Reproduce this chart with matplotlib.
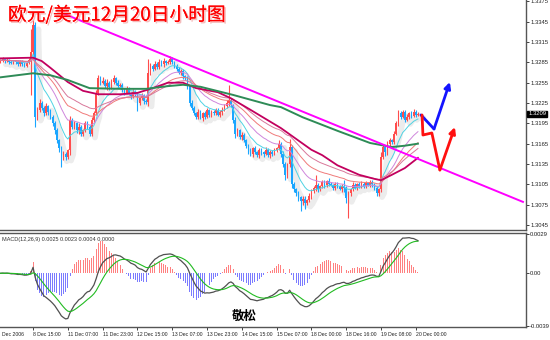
import matplotlib
matplotlib.use("Agg")
import matplotlib.pyplot as plt
import matplotlib.patheffects as pe
import matplotlib.transforms as mtransforms
import numpy as np
import pandas as pd

plt.rcParams['font.family'] = ['Liberation Sans', 'DejaVu Sans']

title = "欧元/美元12月20日小时图"
signature = "敬松"
macd_label = "MACD(12,26,9) 0.0025 0.0023 0.0004 0.0000"

base_price = 1.3
open_first_pips = 286
# hourly closes, pips above 1.3000
close_pips = [
    288, 290, 287, 289, 286, 284, 287, 285, 282, 286,
    283, 280, 284, 288, 300, 340, 205, 215, 225, 218,
    210, 220, 212, 205, 195, 185, 170, 158, 145, 150,
    146, 155, 200, 190, 195, 185, 190, 180, 185, 195,
    190, 180, 200, 210, 240, 262, 255, 258, 250, 254,
    248, 256, 262, 255, 250, 252, 245, 240, 246, 240,
    235, 242, 238, 225, 232, 236, 228, 226, 270, 280,
    276, 283, 278, 285, 282, 287, 284, 286, 290, 285,
    280, 276, 270, 272, 265, 262, 250, 225, 218, 210,
    205, 212, 203, 210, 205, 214, 208, 212, 210, 214,
    208, 212, 215, 220, 225, 230, 222, 200, 180, 185,
    175, 178, 170, 162, 155, 150, 158, 152, 148, 155,
    152, 150, 156, 148, 153, 150, 155, 158, 165, 150,
    135, 118, 135, 160, 105, 98, 92, 86, 80, 84,
    78, 82, 88, 95, 100, 104, 98, 102, 108, 104,
    110, 106, 104, 100, 105, 102, 98, 103, 100, 85,
    92, 98, 104, 100, 105, 102, 106, 103, 107, 104,
    108, 105, 100, 92, 98, 145, 160, 152, 165, 170,
    168, 180, 195, 210, 205, 212, 200, 205, 210, 206,
    212, 208, 209]
up_wick = [
    2, 3, 2, 2, 1, 3, 2, 2, 3, 2,
    2, 3, 2, 3, 35, 8, 5, 4, 6, 3,
    3, 5, 2, 4, 3, 4, 3, 2, 3, 4,
    3, 2, 6, 3, 4, 2, 5, 3, 2, 4,
    3, 2, 4, 3, 5, 4, 3, 5, 2, 6,
    3, 4, 5, 2, 4, 3, 3, 2, 4, 3,
    2, 4, 3, 3, 2, 4, 2, 3, 20, 4,
    3, 4, 2, 5, 3, 4, 2, 3, 4, 3,
    2, 3, 2, 4, 3, 2, 3, 2, 4, 3,
    2, 4, 3, 2, 3, 4, 2, 3, 2, 4,
    3, 2, 4, 3, 5, 22, 3, 2, 4, 3,
    2, 4, 3, 2, 3, 4, 2, 3, 2, 4,
    3, 2, 4, 3, 2, 3, 4, 2, 5, 3,
    4, 3, 2, 12, 3, 4, 2, 3, 2, 4,
    3, 2, 4, 3, 2, 15, 3, 2, 4, 3,
    2, 4, 3, 2, 3, 4, 2, 3, 8, 2,
    3, 2, 4, 3, 2, 3, 4, 2, 3, 2,
    4, 3, 2, 3, 2, 7, 3, 2, 4, 3,
    2, 4, 3, 5, 3, 2, 3, 4, 2, 3,
    4, 2, 3]
dn_wick = [
    2, 2, 3, 2, 3, 2, 2, 3, 2, 2,
    3, 2, 2, 2, 51, 4, 15, 5, 3, 4,
    4, 3, 5, 3, 4, 5, 4, 5, 14, 4,
    5, 3, 6, 4, 3, 4, 5, 3, 4, 3,
    3, 4, 3, 4, 3, 3, 4, 2, 3, 5,
    3, 2, 3, 4, 3, 2, 4, 3, 2, 3,
    4, 3, 2, 12, 3, 2, 4, 3, 6, 3,
    4, 2, 3, 3, 2, 4, 3, 2, 3, 2,
    3, 4, 2, 3, 4, 3, 4, 5, 4, 3,
    4, 3, 2, 4, 3, 2, 3, 4, 2, 3,
    2, 3, 4, 2, 3, 4, 3, 5, 6, 4,
    3, 4, 3, 4, 5, 3, 4, 2, 3, 4,
    3, 4, 2, 3, 4, 3, 2, 3, 3, 4,
    5, 6, 3, 4, 5, 4, 5, 6, 14, 5,
    10, 4, 3, 4, 3, 5, 4, 3, 2, 4,
    3, 4, 2, 3, 4, 3, 2, 4, 6, 8,
    30, 4, 3, 2, 4, 3, 2, 4, 3, 2,
    3, 4, 3, 4, 5, 4, 3, 5, 4, 3,
    4, 3, 2, 4, 3, 2, 3, 2, 4, 3,
    2, 3, 2]

# long moving averages (bar index, pips)
green_bars = [0, 15, 23, 31, 41, 55, 67, 77, 84, 92, 107, 124, 129, 139, 155, 170, 175, 180, 186, 192]
green_pips = [263, 269, 266, 259, 247, 246, 246, 250, 252, 249, 237, 222, 219, 204, 184, 166, 163, 160, 162, 165]
maroon_bars = [0, 15, 19, 23, 31, 38, 45, 55, 63, 70, 77, 84, 90, 100, 106, 115, 129, 143, 148, 155, 165, 172, 175, 180, 186, 192]
maroon_pips = [291, 292, 287, 277, 256, 243, 238, 238, 240, 247, 255, 255, 247, 241, 232, 215, 188, 156, 148, 133, 119, 113, 111, 119, 129, 144]

thin_spans = [10, 20, 32, 44]
thin_colors = ['#4fd3e3', '#cf86dc', '#f07a7a', '#d8779a']

trend_x = [28.3, 240.3]
trend_y = [1.3358, 1.3079]
blue_x = [193.4, 199.4, 206.7]
blue_y = [1.32074, 1.31867, 1.32561]
red_x = [193.9, 194.3, 198.4, 202.1, 209.0]
red_y = [1.32074, 1.31778, 1.31808, 1.31261, 1.31896]

price_ticks = [1.3375, 1.3345, 1.3315, 1.3285, 1.3255, 1.3225, 1.3195, 1.3165, 1.3135, 1.3105, 1.3075, 1.3045]
last_price = 1.3209
time_tick_bars = [15, 31, 47, 63, 79, 95, 111, 127, 143, 159, 175, 191]
time_labels = ["8 Dec 15:00", "11 Dec 07:00", "11 Dec 23:00", "12 Dec 15:00", "13 Dec 07:00",
               "13 Dec 23:00", "14 Dec 15:00", "15 Dec 07:00", "18 Dec 00:00", "18 Dec 16:00",
               "19 Dec 08:00", "20 Dec 00:00"]
first_time_label = "Dec 2006"
macd_ticks = [0.0029, 0.0, -0.0039]
macd_tick_labels = ["0.0029", "0.00", "-0.0039"]

# ---------------------------------------------------------------
n = len(close_pips)
assert len(up_wick) == n and len(dn_wick) == n
close = base_price + np.array(close_pips) / 10000.0
opens = np.concatenate([[base_price + open_first_pips / 10000.0], close[:-1]])
high = np.maximum(opens, close) + np.array(up_wick) / 10000.0
low = np.minimum(opens, close) - np.array(dn_wick) / 10000.0
x = np.arange(n)

W, H = 550, 340
fig = plt.figure(figsize=(W / 100, H / 100), dpi=100)
ax = fig.add_axes([0, 1 - 230 / H, 526 / W, 230 / H])
axm = fig.add_axes([0, 1 - 327 / H, 526 / W, 94 / H])

xlim = (-0.2, 241.7)
ax.set_xlim(*xlim)
ax.set_ylim(1.30375, 1.33772)
axm.set_xlim(*xlim)
axm.set_ylim(-0.0040, 0.0030)

# faint grey ghost behind the price (as in the reference's watermark shading)
ax.plot(x + 2.5, close - 0.0006, color='#ececec', lw=4.0, zorder=1, solid_capstyle='round')

cols = np.where(close > opens, '#ff4d4d', np.where(close < opens, '#1aa6ff', '#404040'))
ax.vlines(x, low, high, colors=cols, lw=0.8, zorder=3)
body_b = np.minimum(opens, close)
body_h = np.maximum(np.abs(close - opens), 0.00005)
ax.bar(x, body_h, bottom=body_b, width=0.75, color=cols, lw=0, zorder=3)

s = pd.Series(close)
for span, c in zip(thin_spans, thin_colors):
    ax.plot(x, s.ewm(span=span, adjust=False).mean(), color=c, lw=0.7, zorder=4)
ax.plot(maroon_bars, base_price + np.array(maroon_pips) / 10000.0, color='#c2005e', lw=1.3, zorder=5)
ax.plot(green_bars, base_price + np.array(green_pips) / 10000.0, color='#2e8b57', lw=1.4, zorder=5)

ax.plot(trend_x, trend_y, color='#ff00ff', lw=1.4, zorder=6)

ax.plot(blue_x[:-1], blue_y[:-1], color='#1414ff', lw=2.0, zorder=7, solid_capstyle='round')
ax.annotate('', xy=(blue_x[-1], blue_y[-1]), xytext=(blue_x[-2], blue_y[-2]),
            arrowprops=dict(arrowstyle='-|>', color='#1414ff', lw=2.0, mutation_scale=9,
                            shrinkA=0, shrinkB=0), zorder=7)
ax.plot(red_x[:-1], red_y[:-1], color='#ff1010', lw=2.0, zorder=7, solid_capstyle='round')
ax.annotate('', xy=(red_x[-1], red_y[-1]), xytext=(red_x[-2], red_y[-2]),
            arrowprops=dict(arrowstyle='-|>', color='#ff1010', lw=2.0, mutation_scale=9,
                            shrinkA=0, shrinkB=0), zorder=7)

# MACD
ema12 = s.ewm(span=12, adjust=False).mean()
ema26 = s.ewm(span=26, adjust=False).mean()
dif = ema12 - ema26
dea = dif.ewm(span=9, adjust=False).mean()
hist = 2 * (dif - dea)
axm.bar(x, hist, width=0.45, color=np.where(hist >= 0, '#ff8080', '#7b7bff'), lw=0, zorder=2)
axm.plot(x, dif, color='#505050', lw=0.9, zorder=3)
axm.plot(x, dea, color='#22bb22', lw=0.8, zorder=3)

# axes styling
for a in (ax, axm):
    for sp in a.spines.values():
        sp.set_color('#555555')
        sp.set_linewidth(1.0)
    a.spines['left'].set_visible(False)
    a.yaxis.tick_right()
    a.tick_params(axis='y', direction='out', length=2, width=0.6, labelsize=4.2, pad=1, colors='#222222')
ax.spines['top'].set_visible(False)
ax.set_xticks([])
ax.set_yticks(price_ticks)
ax.set_yticklabels([f"{p:.4f}" for p in price_ticks])
axm.set_yticks(macd_ticks)
axm.set_yticklabels(macd_tick_labels)
axm.set_xticks(time_tick_bars)
axm.set_xticklabels(time_labels, ha='left')
axm.tick_params(axis='x', direction='out', length=2, width=0.6, labelsize=3.7, pad=1.5, colors='#222222')

trans = mtransforms.blended_transform_factory(ax.transAxes, ax.transData)
ax.text(1.004, last_price, f"{last_price:.4f}", transform=trans, fontsize=4.2, color='white',
        va='center', ha='left', bbox=dict(boxstyle='square,pad=0.15', fc='black', ec='black'), zorder=10)

fig.text(2 / W, 1 - 335 / H, first_time_label, fontsize=3.7, color='#222222', va='center', ha='left')
axm.text(0.004, 0.96, macd_label, transform=axm.transAxes, fontsize=4.0, color='#333333', va='top', ha='left')

t = fig.text(8 / W, 1 - 15 / H, title, fontsize=13.5, color='#ff0000', va='center', ha='left',
             family=['Noto Sans CJK SC', 'DejaVu Sans'], zorder=20)
t.set_path_effects([pe.withSimplePatchShadow(offset=(1.2, -1.2), shadow_rgbFace='#f0a0a0', alpha=0.7), pe.Normal()])
fig.text(244 / W, 1 - 316 / H, signature, fontsize=9, fontweight='bold', color='black', va='center', ha='center',
         family=['Noto Sans CJK SC', 'DejaVu Sans'])

fig.savefig('out.png', dpi=100)
